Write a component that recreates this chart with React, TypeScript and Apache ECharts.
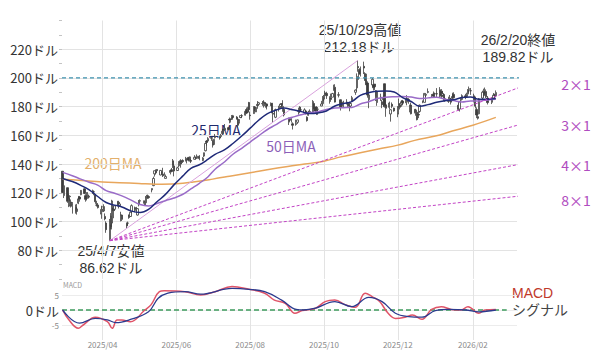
import React, { useEffect, useRef } from 'react';
import * as echarts from 'echarts';

const FONT = '"Noto Sans CJK JP", "Noto Sans", sans-serif';
const FONT_TIGHT = '"Liberation Sans", "Noto Sans CJK JP", sans-serif';

// [date, open, close, low, high]
type C = [string, number, number, number, number];
const candlesFebMar: C[] = [
  ['2025-02-27', 135.0, 120.15, 119.8, 135.01], ['2025-02-28', 118.02, 124.92, 116.32, 125.09],
  ['2025-03-03', 123.51, 114.06, 113.01, 123.7], ['2025-03-04', 110.65, 115.99, 110.0, 119.31],
  ['2025-03-05', 117.58, 117.3, 114.06, 118.28], ['2025-03-06', 113.53, 110.57, 109.73, 115.35],
  ['2025-03-07', 111.25, 112.69, 105.46, 113.48], ['2025-03-10', 109.9, 106.98, 105.45, 111.85],
  ['2025-03-11', 106.99, 108.76, 104.77, 112.23], ['2025-03-12', 112.73, 115.74, 112.07, 117.77],
  ['2025-03-13', 117.03, 115.58, 113.8, 117.76], ['2025-03-14', 118.61, 121.67, 118.28, 121.89],
  ['2025-03-17', 122.74, 119.53, 119.03, 122.95], ['2025-03-18', 118.0, 115.43, 113.79, 119.02],
  ['2025-03-19', 117.27, 117.52, 114.62, 120.45], ['2025-03-20', 116.55, 118.53, 115.8, 120.47],
  ['2025-03-21', 116.94, 117.7, 116.0, 117.99], ['2025-03-24', 119.88, 121.41, 119.26, 122.22],
  ['2025-03-25', 120.55, 120.69, 118.28, 121.29], ['2025-03-26', 118.73, 113.76, 112.28, 118.84],
  ['2025-03-27', 111.35, 111.43, 110.4, 114.45], ['2025-03-28', 111.49, 109.67, 109.07, 112.87],
  ['2025-03-31', 105.13, 108.38, 101.88, 110.96],
];
const candlesAprJun: C[] = [
  ['2025-04-01', 108.52, 110.15, 106.71, 110.2], ['2025-04-02', 107.29, 110.42, 106.6, 111.98],
  ['2025-04-03', 103.51, 101.8, 100.8, 105.63], ['2025-04-04', 98.91, 94.31, 92.11, 100.13],
  ['2025-04-07', 87.46, 97.64, 86.62, 101.75], ['2025-04-08', 103.81, 96.3, 94.5, 105.85],
  ['2025-04-09', 98.89, 114.33, 94.46, 115.1], ['2025-04-10', 109.37, 107.57, 102.26, 110.86],
  ['2025-04-11', 108.5, 110.93, 107.57, 111.26], ['2025-04-14', 114.11, 110.71, 109.07, 114.29],
  ['2025-04-15', 110.97, 112.2, 110.44, 113.62], ['2025-04-16', 104.55, 104.49, 100.05, 106.77],
  ['2025-04-17', 104.45, 101.49, 100.32, 104.47], ['2025-04-21', 98.77, 96.91, 95.04, 99.26],
  ['2025-04-22', 98.78, 98.89, 97.35, 99.9], ['2025-04-23', 104.52, 102.71, 101.88, 104.8],
  ['2025-04-24', 103.48, 106.43, 103.11, 106.54], ['2025-04-25', 106.85, 111.01, 105.67, 111.92],
  ['2025-04-28', 109.69, 108.73, 106.41, 110.37], ['2025-04-29', 107.67, 109.02, 107.44, 110.2],
  ['2025-04-30', 104.47, 108.92, 104.08, 108.92], ['2025-05-01', 113.08, 111.61, 110.5, 114.94],
  ['2025-05-02', 114.18, 114.5, 113.1, 115.4], ['2025-05-05', 112.91, 113.82, 112.5, 114.67],
  ['2025-05-06', 111.48, 113.54, 111.3, 114.74], ['2025-05-07', 113.05, 117.06, 112.88, 117.68],
  ['2025-05-08', 118.25, 117.37, 115.67, 118.68], ['2025-05-09', 117.35, 116.65, 115.84, 118.23],
  ['2025-05-12', 121.97, 123.0, 120.28, 123.0], ['2025-05-13', 124.98, 129.93, 124.58, 131.22],
  ['2025-05-14', 133.2, 135.34, 131.26, 135.44], ['2025-05-15', 134.3, 134.83, 132.7, 136.3],
  ['2025-05-16', 136.22, 135.4, 133.6, 136.35], ['2025-05-19', 132.39, 135.57, 132.15, 135.87],
  ['2025-05-20', 134.29, 134.38, 132.61, 134.58], ['2025-05-21', 133.06, 131.8, 130.99, 137.4],
  ['2025-05-22', 132.23, 132.83, 131.94, 134.25], ['2025-05-23', 130.0, 131.29, 129.93, 132.68],
  ['2025-05-27', 134.15, 135.5, 132.8, 135.66], ['2025-05-28', 136.03, 134.81, 134.24, 137.25],
  ['2025-05-29', 142.25, 139.19, 137.27, 143.49], ['2025-05-30', 138.72, 135.13, 131.44, 139.62],
  ['2025-06-02', 135.49, 137.38, 135.16, 138.12], ['2025-06-03', 138.78, 141.22, 137.97, 142.0],
  ['2025-06-04', 142.19, 141.92, 140.75, 142.39], ['2025-06-05', 142.17, 139.99, 137.46, 143.35],
  ['2025-06-06', 142.51, 141.72, 140.76, 143.27], ['2025-06-09', 143.19, 142.63, 141.76, 145.0],
  ['2025-06-10', 142.69, 143.96, 140.42, 144.29], ['2025-06-11', 144.61, 142.83, 141.86, 144.99],
  ['2025-06-12', 141.97, 145.0, 141.85, 145.22], ['2025-06-13', 142.48, 141.97, 140.68, 143.58],
  ['2025-06-16', 143.35, 144.69, 143.1, 146.18], ['2025-06-17', 144.49, 144.12, 143.12, 145.22],
  ['2025-06-18', 144.01, 145.48, 143.78, 146.7], ['2025-06-20', 145.45, 143.85, 142.65, 146.2],
  ['2025-06-23', 142.5, 144.17, 142.03, 144.78], ['2025-06-24', 145.56, 147.9, 144.8, 147.96],
  ['2025-06-25', 149.27, 154.31, 148.83, 154.45], ['2025-06-26', 155.98, 155.02, 152.79, 156.72],
  ['2025-06-27', 156.04, 157.75, 155.75, 158.71], ['2025-06-30', 158.37, 157.99, 156.15, 158.99],
];
const candlesJulSep: C[] = [
  ['2025-07-01', 156.29, 153.3, 151.49, 157.2], ['2025-07-02', 153.63, 157.25, 153.08, 157.44],
  ['2025-07-03', 158.43, 159.34, 157.8, 160.98], ['2025-07-07', 158.8, 158.24, 157.0, 159.78],
  ['2025-07-08', 159.17, 160.0, 158.0, 161.0], ['2025-07-09', 161.22, 162.88, 160.54, 164.42],
  ['2025-07-10', 164.32, 164.1, 161.0, 164.5], ['2025-07-11', 163.72, 164.92, 163.21, 167.89],
  ['2025-07-14', 165.37, 164.07, 163.61, 165.49], ['2025-07-15', 171.19, 170.7, 168.41, 172.4],
  ['2025-07-16', 171.06, 171.37, 168.9, 171.75], ['2025-07-17', 172.02, 173.0, 171.0, 174.16],
  ['2025-07-18', 173.64, 172.41, 170.89, 174.25], ['2025-07-21', 172.75, 171.38, 171.0, 173.38],
  ['2025-07-22', 171.34, 167.03, 165.34, 171.39], ['2025-07-23', 169.53, 170.78, 168.22, 171.26],
  ['2025-07-24', 172.43, 173.74, 171.97, 173.96], ['2025-07-25', 173.61, 173.5, 172.0, 174.72],
  ['2025-07-28', 174.02, 176.75, 173.8, 176.94], ['2025-07-29', 177.96, 175.51, 174.8, 179.38],
  ['2025-07-30', 176.6, 179.27, 175.5, 179.89], ['2025-07-31', 182.9, 177.87, 175.9, 183.3],
  ['2025-08-01', 174.09, 173.72, 170.89, 176.54], ['2025-08-04', 175.16, 180.0, 175.0, 180.26],
  ['2025-08-05', 179.62, 178.26, 176.9, 180.26], ['2025-08-06', 176.33, 179.42, 176.2, 179.9],
  ['2025-08-07', 181.57, 180.77, 178.5, 183.88], ['2025-08-08', 181.56, 182.7, 181.08, 183.3],
  ['2025-08-11', 182.16, 182.06, 180.59, 183.85], ['2025-08-12', 182.96, 183.16, 179.35, 184.5],
  ['2025-08-13', 182.62, 181.59, 180.36, 183.0], ['2025-08-14', 179.75, 182.02, 179.35, 183.03],
  ['2025-08-15', 181.88, 180.45, 178.04, 181.9], ['2025-08-18', 180.6, 182.01, 180.45, 182.94],
  ['2025-08-19', 182.43, 175.64, 175.52, 182.5], ['2025-08-20', 175.0, 175.4, 168.8, 175.9],
  ['2025-08-21', 174.85, 174.98, 173.92, 176.9], ['2025-08-22', 172.61, 177.99, 171.97, 178.58],
  ['2025-08-25', 178.35, 179.81, 176.6, 180.6], ['2025-08-26', 180.06, 181.77, 178.9, 182.0],
  ['2025-08-27', 181.98, 181.6, 178.92, 182.35], ['2025-08-28', 178.12, 180.17, 176.41, 184.47],
  ['2025-08-29', 178.11, 174.18, 173.14, 178.15], ['2025-09-02', 170.0, 170.78, 167.22, 172.38],
  ['2025-09-03', 171.06, 170.62, 169.03, 172.41], ['2025-09-04', 170.57, 171.66, 168.9, 171.86],
  ['2025-09-05', 168.03, 167.02, 164.07, 169.03], ['2025-09-08', 167.55, 168.31, 166.73, 170.96],
  ['2025-09-09', 169.08, 170.76, 167.97, 170.96], ['2025-09-10', 176.64, 177.33, 174.4, 179.29],
  ['2025-09-11', 179.68, 177.17, 175.45, 180.28], ['2025-09-12', 177.77, 177.82, 176.43, 178.59],
  ['2025-09-15', 175.67, 177.75, 175.19, 178.85], ['2025-09-16', 177.0, 174.88, 174.6, 177.5],
  ['2025-09-17', 172.64, 170.29, 169.59, 173.2], ['2025-09-18', 173.98, 176.24, 173.6, 177.1],
  ['2025-09-19', 175.77, 176.67, 175.2, 178.08], ['2025-09-22', 175.3, 183.61, 174.98, 184.55],
  ['2025-09-23', 181.97, 178.43, 176.76, 182.42], ['2025-09-24', 179.77, 176.97, 175.49, 179.78],
  ['2025-09-25', 174.48, 177.69, 174.23, 180.26], ['2025-09-26', 178.17, 178.19, 176.5, 179.77],
  ['2025-09-29', 180.43, 181.85, 180.32, 184.0], ['2025-09-30', 182.08, 186.58, 181.48, 187.35],
];
const candlesOctDec: C[] = [
  ['2025-10-01', 185.24, 187.24, 183.9, 188.14], ['2025-10-02', 189.6, 188.89, 187.36, 191.05],
  ['2025-10-03', 189.19, 187.62, 185.38, 190.36], ['2025-10-06', 185.5, 185.54, 182.06, 187.23],
  ['2025-10-07', 186.23, 185.04, 183.33, 189.06], ['2025-10-08', 186.57, 189.11, 186.54, 189.6],
  ['2025-10-09', 192.23, 192.57, 191.04, 195.3], ['2025-10-10', 193.51, 183.16, 182.9, 195.62],
  ['2025-10-13', 187.97, 188.32, 186.41, 190.11], ['2025-10-14', 184.77, 180.03, 179.7, 184.8],
  ['2025-10-15', 184.8, 179.83, 177.29, 184.87], ['2025-10-16', 182.23, 181.81, 179.79, 183.28],
  ['2025-10-17', 180.18, 183.22, 179.77, 184.1], ['2025-10-20', 183.13, 182.64, 181.48, 185.2],
  ['2025-10-21', 182.79, 181.16, 179.8, 182.79], ['2025-10-22', 181.14, 180.28, 176.76, 183.44],
  ['2025-10-23', 180.42, 182.16, 179.8, 183.03], ['2025-10-24', 183.84, 186.26, 183.6, 187.47],
  ['2025-10-27', 189.99, 191.49, 188.2, 192.0], ['2025-10-28', 193.05, 201.03, 191.0, 203.15],
  ['2025-10-29', 207.98, 207.04, 204.3, 212.18], ['2025-10-30', 205.15, 202.89, 198.7, 206.16],
  ['2025-10-31', 206.45, 202.49, 201.0, 207.97], ['2025-11-03', 208.08, 206.88, 202.7, 211.34],
  ['2025-11-04', 203.0, 198.69, 197.93, 203.97], ['2025-11-05', 198.77, 195.21, 194.9, 202.92],
  ['2025-11-06', 196.42, 188.08, 186.23, 197.62], ['2025-11-07', 184.9, 188.15, 178.91, 188.32],
  ['2025-11-10', 195.1, 199.05, 193.79, 199.94], ['2025-11-11', 195.16, 193.16, 191.31, 195.42],
  ['2025-11-12', 195.72, 193.8, 191.63, 195.89], ['2025-11-13', 191.05, 186.86, 183.9, 191.44],
  ['2025-11-14', 182.86, 190.17, 180.58, 191.01], ['2025-11-17', 185.97, 186.6, 184.0, 189.0],
  ['2025-11-18', 183.38, 181.36, 178.93, 184.8], ['2025-11-19', 184.79, 186.52, 179.65, 187.86],
  ['2025-11-20', 195.95, 180.64, 179.28, 196.0], ['2025-11-21', 181.24, 178.88, 172.93, 184.56],
  ['2025-11-24', 179.49, 182.55, 178.07, 183.5], ['2025-11-25', 174.91, 177.82, 169.55, 178.16],
  ['2025-11-26', 181.63, 180.26, 178.91, 182.91], ['2025-11-28', 179.01, 177.0, 176.48, 179.29],
  ['2025-12-01', 174.76, 179.92, 172.65, 180.3], ['2025-12-02', 181.76, 181.46, 179.43, 185.66],
  ['2025-12-03', 181.08, 179.59, 178.06, 182.45], ['2025-12-04', 181.62, 183.38, 179.97, 184.52],
  ['2025-12-05', 183.89, 182.41, 180.9, 184.66], ['2025-12-08', 182.64, 185.55, 180.91, 188.0],
  ['2025-12-09', 185.56, 184.97, 182.99, 185.72], ['2025-12-10', 184.97, 183.78, 182.0, 185.48],
  ['2025-12-11', 180.28, 180.93, 176.03, 181.32], ['2025-12-12', 181.11, 175.02, 174.62, 182.8],
  ['2025-12-15', 177.94, 176.29, 175.28, 178.42], ['2025-12-16', 176.26, 177.72, 173.66, 178.49],
  ['2025-12-17', 176.1, 170.94, 170.42, 176.13], ['2025-12-18', 174.53, 174.14, 172.0, 177.15],
  ['2025-12-19', 176.67, 180.99, 175.8, 181.45], ['2025-12-22', 183.92, 183.69, 182.4, 184.16],
  ['2025-12-23', 182.97, 189.21, 182.9, 189.33], ['2025-12-24', 187.94, 188.61, 186.6, 188.91],
  ['2025-12-26', 189.92, 190.53, 189.3, 192.69], ['2025-12-29', 187.71, 188.22, 186.3, 188.76],
  ['2025-12-30', 188.24, 187.54, 187.0, 188.99], ['2025-12-31', 189.57, 186.5, 186.4, 190.56],
];
const candlesJanFeb: C[] = [
  ['2026-01-02', 189.0, 188.85, 186.3, 192.9], ['2026-01-05', 191.8, 188.12, 186.0, 193.6],
  ['2026-01-06', 190.5, 187.24, 186.1, 192.2], ['2026-01-07', 188.0, 189.11, 186.9, 191.0],
  ['2026-01-08', 188.5, 185.04, 183.7, 189.0], ['2026-01-09', 185.5, 184.86, 183.4, 186.9],
  ['2026-01-12', 183.6, 184.94, 182.6, 186.9], ['2026-01-13', 185.0, 185.81, 183.9, 188.1],
  ['2026-01-14', 185.5, 183.14, 181.5, 186.0], ['2026-01-15', 186.0, 187.05, 184.8, 189.7],
  ['2026-01-16', 188.5, 186.23, 185.6, 190.0], ['2026-01-20', 181.0, 178.07, 177.1, 182.5],
  ['2026-01-21', 178.3, 183.32, 176.6, 184.0], ['2026-01-22', 184.5, 184.84, 183.4, 186.4],
  ['2026-01-23', 185.0, 187.67, 184.8, 188.6], ['2026-01-26', 187.5, 186.47, 185.2, 188.9],
  ['2026-01-27', 187.0, 188.52, 186.2, 189.7], ['2026-01-28', 190.0, 191.52, 188.7, 192.2],
  ['2026-01-29', 192.0, 192.51, 188.6, 194.0], ['2026-01-30', 191.0, 191.13, 188.2, 193.0],
  ['2026-02-02', 187.5, 185.61, 183.0, 189.0], ['2026-02-03', 186.0, 180.34, 178.7, 187.0],
  ['2026-02-04', 178.0, 174.19, 172.0, 179.5], ['2026-02-05', 173.0, 171.88, 171.0, 176.5],
  ['2026-02-06', 175.0, 185.41, 174.6, 186.0], ['2026-02-09', 186.0, 190.04, 184.5, 191.1],
  ['2026-02-10', 190.5, 188.54, 187.0, 192.5], ['2026-02-11', 190.0, 190.05, 187.5, 193.3],
  ['2026-02-12', 190.5, 186.94, 186.0, 192.0], ['2026-02-13', 186.0, 182.81, 181.5, 187.4],
  ['2026-02-17', 183.0, 184.97, 181.8, 186.5], ['2026-02-18', 186.0, 187.98, 185.0, 189.5],
  ['2026-02-19', 188.0, 187.9, 186.1, 189.0], ['2026-02-20', 187.5, 189.82, 186.6, 191.3],
];

type P = [string, number];
const ma25: P[] = [
  ['2025-02-27', 130.0], ['2025-03-07', 127.8], ['2025-03-14', 125.2], ['2025-03-21', 122.1],
  ['2025-03-28', 117.4], ['2025-04-04', 113.2], ['2025-04-11', 111.4], ['2025-04-17', 110.1],
  ['2025-04-25', 107.2], ['2025-05-02', 106.2], ['2025-05-09', 108.4], ['2025-05-16', 113.7],
  ['2025-05-23', 118.9], ['2025-05-30', 125.5], ['2025-06-06', 131.4], ['2025-06-13', 137.0],
  ['2025-06-20', 139.5], ['2025-06-27', 143.2], ['2025-07-03', 146.8], ['2025-07-11', 150.0],
  ['2025-07-18', 154.5], ['2025-07-25', 159.5], ['2025-08-01', 165.0], ['2025-08-08', 170.5],
  ['2025-08-15', 175.0], ['2025-08-22', 177.4], ['2025-08-29', 179.1], ['2025-09-05', 177.8],
  ['2025-09-12', 176.6], ['2025-09-19', 175.2], ['2025-09-26', 175.6], ['2025-10-03', 177.0],
  ['2025-10-10', 180.4], ['2025-10-17', 182.1], ['2025-10-24', 183.5], ['2025-10-31', 187.9],
  ['2025-11-07', 189.7], ['2025-11-14', 190.8], ['2025-11-21', 190.9], ['2025-11-28', 190.2],
  ['2025-12-05', 186.3], ['2025-12-12', 183.6], ['2025-12-19', 180.3], ['2025-12-26', 181.4],
  ['2026-01-02', 183.0], ['2026-01-09', 184.1], ['2026-01-16', 184.8], ['2026-01-23', 186.3],
  ['2026-01-30', 186.7], ['2026-02-06', 185.1], ['2026-02-13', 185.2], ['2026-02-20', 185.7],
];
const ma50: P[] = [
  ['2025-02-27', 134.2], ['2025-03-07', 131.9], ['2025-03-14', 129.5], ['2025-03-21', 127.3],
  ['2025-03-28', 125.3], ['2025-04-04', 121.5], ['2025-04-11', 119.7], ['2025-04-17', 117.8],
  ['2025-04-25', 114.7], ['2025-05-02', 111.8], ['2025-05-09', 110.8], ['2025-05-16', 112.5],
  ['2025-05-23', 114.5], ['2025-05-30', 116.3], ['2025-06-06', 118.8], ['2025-06-13', 122.7],
  ['2025-06-20', 126.6], ['2025-06-27', 131.0], ['2025-07-03', 136.4], ['2025-07-11', 141.6],
  ['2025-07-18', 147.0], ['2025-07-25', 151.0], ['2025-08-01', 155.3], ['2025-08-08', 159.7],
  ['2025-08-15', 163.9], ['2025-08-22', 167.3], ['2025-08-29', 170.8], ['2025-09-05', 172.6],
  ['2025-09-12', 174.3], ['2025-09-19', 175.7], ['2025-09-26', 176.5], ['2025-10-03', 178.0],
  ['2025-10-10', 179.1], ['2025-10-17', 179.3], ['2025-10-24', 179.4], ['2025-10-31', 181.8],
  ['2025-11-07', 183.4], ['2025-11-14', 185.6], ['2025-11-21', 186.5], ['2025-11-28', 186.9],
  ['2025-12-05', 187.1], ['2025-12-12', 186.7], ['2025-12-19', 185.6], ['2025-12-26', 186.1],
  ['2026-01-02', 186.6], ['2026-01-09', 185.2], ['2026-01-16', 184.2], ['2026-01-23', 183.3],
  ['2026-01-30', 184.0], ['2026-02-06', 184.0], ['2026-02-13', 184.7], ['2026-02-20', 185.2],
];
const ma200: P[] = [
  ['2025-02-27', 129.5], ['2025-03-15', 128.5], ['2025-04-01', 127.5], ['2025-04-15', 127.0],
  ['2025-05-01', 126.5], ['2025-05-15', 126.0], ['2025-06-01', 126.3], ['2025-06-15', 127.5],
  ['2025-07-01', 129.5], ['2025-07-15', 131.5], ['2025-08-01', 134.0], ['2025-08-15', 136.0],
  ['2025-09-01', 138.3], ['2025-09-15', 140.0], ['2025-10-01', 142.0], ['2025-10-15', 145.0],
  ['2025-11-01', 148.0], ['2025-11-15', 150.5], ['2025-12-01', 153.2], ['2025-12-15', 156.5],
  ['2026-01-01', 159.5], ['2026-01-15', 163.0], ['2026-02-01', 167.0], ['2026-02-20', 172.5],
];
const macdLine: P[] = [
  ['2025-02-27', 0], ['2025-03-04', -3.2], ['2025-03-12', -6.1], ['2025-03-16', -5.0],
  ['2025-03-26', -2.4], ['2025-04-05', -3.9], ['2025-04-09', -6.1], ['2025-04-13', -3.3],
  ['2025-04-17', -3.3], ['2025-04-24', -3.9], ['2025-05-06', 0], ['2025-05-11', 1.7],
  ['2025-05-18', 6.1], ['2025-05-22', 6.4], ['2025-06-08', 6.1], ['2025-06-21', 5.0],
  ['2025-07-03', 6.1], ['2025-07-17', 7.8], ['2025-07-31', 6.9], ['2025-08-13', 5.6],
  ['2025-08-21', 3.3], ['2025-08-30', 2.2], ['2025-09-07', -1.1], ['2025-09-13', -0.2],
  ['2025-09-24', 0.6], ['2025-10-02', 2.8], ['2025-10-10', 3.3], ['2025-10-19', 1.7],
  ['2025-10-27', 0.9], ['2025-11-04', 5.6], ['2025-11-10', 4.4], ['2025-11-16', 2.8],
  ['2025-11-23', -1.1], ['2025-11-29', -2.8], ['2025-12-07', -2.4], ['2025-12-13', -1.7],
  ['2025-12-21', -3.1], ['2025-12-29', 0.2], ['2026-01-06', 1.1], ['2026-01-14', 0.2],
  ['2026-01-22', 0], ['2026-01-28', 1.1], ['2026-02-06', -1.1], ['2026-02-11', 0],
  ['2026-02-20', 0.2],
];
const signalLine: P[] = [
  ['2025-02-27', 0], ['2025-03-13', -4.4], ['2025-03-26', -2.8], ['2025-04-05', -3.3],
  ['2025-04-12', -4.2], ['2025-04-23', -3.3], ['2025-05-09', -0.6], ['2025-05-17', 3.9],
  ['2025-05-25', 5.6], ['2025-06-08', 6.1], ['2025-06-21', 5.3], ['2025-07-17', 7.2],
  ['2025-07-31', 6.9], ['2025-08-13', 6.1], ['2025-08-27', 3.3], ['2025-09-08', 0.2],
  ['2025-09-14', 0], ['2025-09-24', 0.6], ['2025-10-10', 2.8], ['2025-10-24', 1.1],
  ['2025-11-07', 4.2], ['2025-11-18', 2.8], ['2025-11-29', -1.1], ['2025-12-10', -2.2],
  ['2025-12-21', -2.4], ['2026-01-01', -0.2], ['2026-01-12', 0.2], ['2026-01-26', 0],
  ['2026-02-06', -0.6], ['2026-02-20', 0],
];

const lowPoint: P = ['2025-04-07', 86.62];
const highPoint: P = ['2025-10-29', 212.18];
const gannEnds: { name: string; end: P }[] = [
  { name: '2×1', end: ['2026-03-28', 198.6] },
  { name: '3×1', end: ['2026-03-28', 171.4] },
  { name: '4×1', end: ['2026-03-28', 142.4] },
  { name: '8×1', end: ['2026-03-28', 119.2] },
];
const resistance = 200;
const monthTicks = ['2025-04-01', '2025-06-01', '2025-08-01', '2025-10-01', '2025-12-01', '2026-02-01'];

const t = (s: string) => new Date(s + 'T00:00:00').getTime();
const HALF_DAY = 43200000;
const X_MIN = t('2025-02-26') + HALF_DAY;
const X_MAX = t('2026-03-09') + HALF_DAY;

export default function App() {
  const ref = useRef<HTMLDivElement>(null);
  useEffect(() => {
    if (!ref.current) return;
    const chart = echarts.init(ref.current, null, { renderer: 'svg' });
    const candles = [...candlesFebMar, ...candlesAprJun, ...candlesJulSep, ...candlesOctDec, ...candlesJanFeb]
      .map(([d, o, c, l, h]) => [t(d), o, c, l, h]);
    const pts = (a: P[]) => a.map(([d, v]) => [t(d), v]);
    const ticks = monthTicks.map(t);
    const fmtMonth = (v: number) => {
      const d = new Date(v);
      return d.getFullYear() + '/' + String(d.getMonth() + 1).padStart(2, '0');
    };
    const gridLineColor = '#e3e3e3';
    const baseX = {
      type: 'value' as const,
      min: X_MIN,
      max: X_MAX,
      axisLine: { show: false },
      axisTick: { show: false, customValues: ticks },
      splitLine: { show: true, lineStyle: { color: gridLineColor, width: 1 } },
    };
    const txt = (x: number, y: number, text: string, fill: string, size = 14, align = 'center', family = FONT) => ({
      type: 'text', x, y, silent: true,
      style: { text, fill, fontSize: size, fontFamily: family, align, verticalAlign: 'middle' },
    });
    chart.setOption({
      animation: false,
      backgroundColor: '#ffffff',
      grid: [
        { left: 62, right: 83, top: 20.5, height: 258.4 },
        { left: 62, right: 83, top: 280, height: 60 },
      ],
      xAxis: [
        { ...baseX, gridIndex: 0, axisLabel: { show: false, customValues: ticks } },
        {
          ...baseX, gridIndex: 1,
          axisLabel: { show: true, customValues: ticks, formatter: fmtMonth, fontSize: 8, color: '#8a8a8a', margin: 0, fontFamily: FONT },
        },
      ],
      yAxis: [
        {
          type: 'value', gridIndex: 0, min: 60, max: 240, interval: 20,
          axisLine: { show: false },
          axisTick: { show: true, length: 3, lineStyle: { color: '#c4c4c4' } },
          minorTick: { show: true, splitNumber: 2, length: 3, lineStyle: { color: '#c4c4c4' } },
          axisLabel: {
            formatter: (v: number) => v + 'ドル', showMinLabel: false, showMaxLabel: false,
            fontSize: 13, color: '#333', fontFamily: FONT, margin: 4,
          },
          splitLine: { show: true, showMinLine: false, showMaxLine: false, lineStyle: { color: gridLineColor } },
        },
        {
          type: 'value', gridIndex: 1, min: -10, max: 10, interval: 5,
          axisLine: { show: false }, axisTick: { show: false },
          axisLabel: {
            showMinLabel: false, showMaxLabel: false, margin: 3,
            formatter: (v: number) => (v === 0 ? '{z|0ドル}' : '{s|' + v + '}'),
            rich: {
              z: { fontSize: 13, color: '#333', fontFamily: FONT },
              s: { fontSize: 8, color: '#8a8a8a', fontFamily: FONT },
            },
          },
          splitLine: { show: true, showMinLine: false, showMaxLine: false, lineStyle: { color: '#ececec' } },
        },
      ],
      series: [
        {
          type: 'candlestick', xAxisIndex: 0, yAxisIndex: 0, data: candles, barWidth: 1.8,
          itemStyle: { color: '#ffffff', color0: '#3c3c3c', borderColor: '#3c3c3c', borderColor0: '#3c3c3c', borderWidth: 0.8 },
          z: 2,
        },
        {
          type: 'line', data: pts(ma200), smooth: 0.4, showSymbol: false, symbol: 'none',
          lineStyle: { color: '#e8a65c', width: 1.5 }, z: 3,
        },
        {
          type: 'line', data: [[t(lowPoint[0]), lowPoint[1]], [t(highPoint[0]), highPoint[1]]],
          showSymbol: false, symbol: 'none', lineStyle: { color: '#d9a2dd', width: 1 }, z: 3,
        },
        {
          type: 'line', data: pts(ma50), smooth: 0.4, showSymbol: false, symbol: 'none',
          lineStyle: { color: '#9a6cc8', width: 1.5 }, z: 4,
        },
        {
          type: 'line', data: pts(ma25), smooth: 0.4, showSymbol: false, symbol: 'none',
          lineStyle: { color: '#1f2a78', width: 1.5 }, z: 5,
        },
        {
          type: 'line', clip: false, showSymbol: false, symbol: 'none',
          data: [[X_MIN, resistance], [t('2026-04-02'), resistance]],
          lineStyle: { color: '#3f93b0', width: 1.2, type: [4, 3] }, z: 6,
        },
        ...gannEnds.map((g) => ({
          type: 'line', clip: false, showSymbol: false, symbol: 'none',
          data: [[t(lowPoint[0]), lowPoint[1]], [t(g.end[0]), g.end[1]]],
          lineStyle: { color: '#c344c6', width: 1, type: [3, 2] }, z: 6,
        })),
        {
          type: 'line', xAxisIndex: 1, yAxisIndex: 1, showSymbol: false, symbol: 'none',
          data: [[X_MIN, 0], [t('2026-03-01'), 0]],
          lineStyle: { color: '#3c9a5c', width: 1.5, type: [5, 3] }, z: 3,
        },
        {
          type: 'line', xAxisIndex: 1, yAxisIndex: 1, data: pts(macdLine), smooth: 0.4,
          showSymbol: false, symbol: 'none', lineStyle: { color: '#e05468', width: 1.5 }, z: 4,
        },
        {
          type: 'line', xAxisIndex: 1, yAxisIndex: 1, data: pts(signalLine), smooth: 0.4,
          showSymbol: false, symbol: 'none', lineStyle: { color: '#2b3a8e', width: 1.3 }, z: 5,
        },
      ],
      graphic: [
        txt(360, 30, '25/10/29高値', '#333', 14, 'center', FONT_TIGHT),
        txt(359, 47, '212.18ドル', '#333', 14, 'center', FONT_TIGHT),
        txt(518, 40, '26/2/20終値', '#333', 14, 'center', FONT_TIGHT),
        txt(518, 57, '189.82ドル', '#333', 14, 'center', FONT_TIGHT),
        txt(111, 251, '25/4/7安値', '#333', 14, 'center', FONT_TIGHT),
        txt(111, 268, '86.62ドル', '#333', 14, 'center', FONT_TIGHT),
        txt(216, 130, '25日MA', '#1f2a6e'),
        txt(291, 146, '50日MA', '#8c5fb8'),
        txt(113, 163, '200日MA', '#e3b06c'),
        ...gannEnds.map((g, i) => txt(576, [84, 125, 165, 200][i], g.name, '#b04cc0')),
        txt(512, 293, 'MACD', '#c0392b', 14, 'left', FONT_TIGHT),
        txt(512, 310, 'シグナル', '#444', 14, 'left', FONT_TIGHT),
        txt(63, 285, 'MACD', '#999', 7, 'left'),
      ],
    });
    return () => chart.dispose();
  }, []);
  return <div ref={ref} style={{ position: 'absolute', left: 0, top: 0, width: 600, height: 360 }} />;
}
